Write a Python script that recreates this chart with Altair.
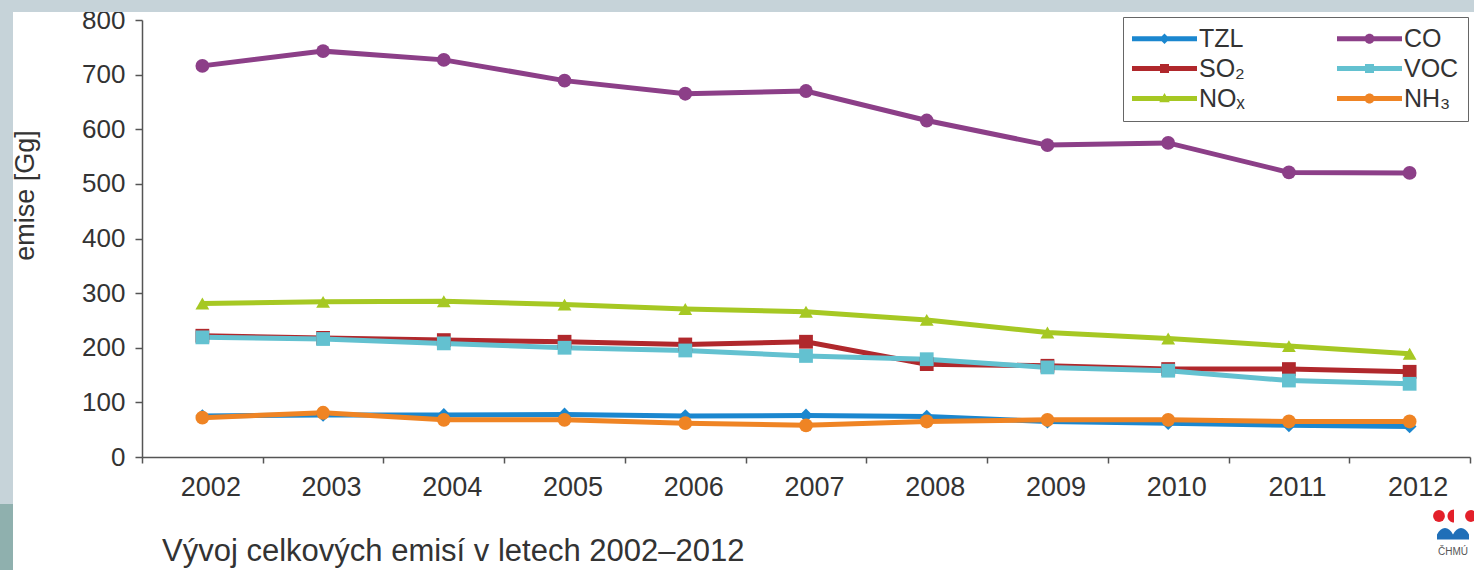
import altair as alt
import pandas as pd

# Total emissions in the Czech Republic, 2002-2012 [Gg]
years = [2002, 2003, 2004, 2005, 2006, 2007, 2008, 2009, 2010, 2011, 2012]
tzl = [75, 77, 77, 78, 75, 76, 74, 65, 62, 58, 56]
co = [716, 743, 727, 689, 665, 670, 616, 571, 575, 521, 520]
so2 = [222, 218, 214, 211, 206, 211, 170, 167, 161, 161, 156]
voc = [219, 216, 208, 200, 195, 185, 179, 164, 158, 140, 134]
nox = [281, 284, 285, 279, 271, 266, 251, 228, 217, 203, 189]
nh3 = [72, 81, 68, 68, 62, 58, 65, 68, 68, 65, 65]

# series in drawing order (later ones on top); also the legend order, column by column
series_names = ["TZL", "SO₂", "NOₓ", "CO", "VOC", "NH₃"]
series_values = [tzl, so2, nox, co, voc, nh3]
series_markers = ["diamond", "square", "triangle-up", "circle", "square", "circle"]
series_colors = ["#1b87cf", "#b0282c", "#a6c823", "#8c3f88", "#63c1d0", "#ef8424"]

FONT = "Liberation Sans"
TEXT = "#333333"
AXIS = "#555555"

rows = []
for name, vals, marker in zip(series_names, series_values, series_markers):
    for y, v in zip(years, vals):
        rows.append({"rok": str(y), "latka": name, "emise": v, "znacka": marker})
df = pd.DataFrame(rows)

# legend symbols: a short line with the series marker in its middle
LINE = "M-4.643,-0.357L4.643,-0.357L4.643,0.357L-4.643,0.357Z"
MARKER_PATHS = {
    "circle": "M-0.714,0A0.714,0.714,0,1,1,0.714,0A0.714,0.714,0,1,1,-0.714,0Z",
    "square": "M-0.643,-0.643L0.643,-0.643L0.643,0.643L-0.643,0.643Z",
    "diamond": "M0,-0.75L0.75,0L0,0.75L-0.75,0Z",
    "triangle-up": "M0,-0.8L0.75,0.55L-0.75,0.55Z",
}
legend_symbols = [LINE + MARKER_PATHS[m] for m in series_markers]

legend = alt.Legend(
    title=None,
    orient="none",
    legendX=981,
    legendY=-3,
    columns=2,
    columnPadding=91,
    rowPadding=4,
    padding=9,
    strokeColor="#666666",
    fillColor="white",
    labelFont=FONT,
    labelFontSize=25,
    labelColor=TEXT,
    symbolSize=196,
    symbolStrokeWidth=0,
    symbolOpacity=1,
    symbolOffset=20,
    labelOffset=22,
)
color = alt.Color(
    "latka:N", scale=alt.Scale(domain=series_names, range=series_colors), legend=legend
)

x = alt.X(
    "rok:O",
    scale=alt.Scale(type="band", paddingInner=0, paddingOuter=0),
    axis=alt.Axis(
        title=None,
        labelAngle=0,
        tickBand="extent",
        labelOffset=8,
        labelFont=FONT,
        labelFontSize=27,
        labelColor=TEXT,
        labelPadding=11,
        domainColor=AXIS,
        domainWidth=1.5,
        tickColor=AXIS,
        tickWidth=1.5,
        tickSize=6,
    ),
)
y = alt.Y(
    "emise:Q",
    scale=alt.Scale(domain=[0, 800], nice=False),
    axis=alt.Axis(
        title="emise [Gg]",
        values=list(range(0, 801, 100)),
        grid=False,
        labelFont=FONT,
        labelFontSize=26,
        labelColor=TEXT,
        labelPadding=10,
        domainColor=AXIS,
        domainWidth=1.5,
        tickColor=AXIS,
        tickWidth=1.5,
        tickSize=7,
        titleFont=FONT,
        titleFontSize=27,
        titleFontWeight="normal",
        titleColor=TEXT,
        titleAngle=270,
        titleAlign="center",
        titleBaseline="middle",
        titleX=-117,
        titleY=175,
    ),
)

lines = alt.Chart(df).mark_line(strokeWidth=5).encode(x=x, y=y, color=color)

# markers, one layer per marker shape
marker_layers = [
    alt.Chart(df)
    .transform_filter(alt.datum.znacka == m)
    .mark_point(shape=m, filled=True, size=190, opacity=1)
    .encode(x=x, y=y, color=color)
    for m in ["diamond", "square", "triangle-up", "circle"]
]

# carries the legend symbols only; its rows are filtered away
legend_layer = (
    alt.Chart(df)
    .transform_filter("false")
    .mark_point(filled=True, size=196, opacity=1)
    .encode(
        x=x,
        y=y,
        color=color,
        shape=alt.Shape(
            "latka:N",
            scale=alt.Scale(domain=series_names, range=legend_symbols),
            legend=legend,
        ),
    )
)

one = alt.Data(values=[{}])

# page frame: grey band on top, strip on the left
frame_top = alt.Chart(one).mark_rect(color="#c6d3d9").encode(
    x=alt.value(-142), x2=alt.value(1332), y=alt.value(-20), y2=alt.value(-8)
)
frame_left = alt.Chart(one).mark_rect(color="#c6d3d9").encode(
    x=alt.value(-142), x2=alt.value(-129), y=alt.value(-8), y2=alt.value(484)
)
frame_left_low = alt.Chart(one).mark_rect(color="#8fb0ae").encode(
    x=alt.value(-142), x2=alt.value(-129), y=alt.value(484), y2=alt.value(550)
)

caption = alt.Chart(one).mark_text(
    text="Vývoj celkových emisí v letech 2002–2012",
    font=FONT,
    fontSize=31,
    color=TEXT,
    align="left",
    baseline="alphabetic",
).encode(x=alt.value(20), y=alt.value(541))

# small institute logo in the bottom right corner
RED = "#e3202a"
logo = [
    alt.Chart(one).mark_point(shape="circle", size=140, filled=True, color=RED, opacity=1)
    .encode(x=alt.value(1297), y=alt.value(496)),
    alt.Chart(one).mark_point(shape="M0,-1A1,1,0,0,0,0,1Z", size=170, filled=True, color=RED, opacity=1)
    .encode(x=alt.value(1312), y=alt.value(496)),
    alt.Chart(one).mark_point(shape="circle", size=140, filled=True, color=RED, opacity=1)
    .encode(x=alt.value(1329), y=alt.value(496)),
    alt.Chart(one).mark_point(
        shape="M-1,0.1C-0.75,-0.45,-0.25,-0.45,0,0.1C0.25,-0.45,0.75,-0.45,1,0.1L1,0.4L-1,0.4Z",
        size=1024, filled=True, color="#1f6fb8", opacity=1,
    ).encode(x=alt.value(1311), y=alt.value(513)),
    alt.Chart(one).mark_text(
        text="ČHMÚ", font=FONT, fontSize=10, color="#555555", align="center", baseline="alphabetic"
    ).encode(x=alt.value(1311), y=alt.value(535)),
]

chart = (
    alt.layer(frame_top, frame_left, frame_left_low, lines, *marker_layers, legend_layer, caption, *logo)
    .properties(
        width=1328,
        height=437,
        autosize=alt.AutoSizeParams(type="none"),
        padding={"left": 142, "top": 20, "right": 4, "bottom": 113},
        background="white",
    )
    .configure_view(stroke=None)
)

chart.save("out.html", embed_options={"renderer": "svg", "actions": False})
